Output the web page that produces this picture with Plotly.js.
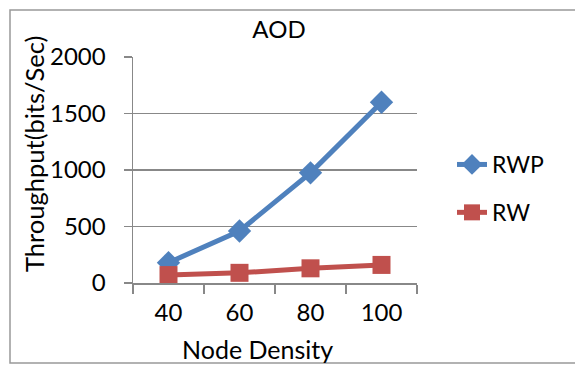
<!DOCTYPE html>
<html>
<head>
<meta charset="utf-8">
<script src="https://cdn.plot.ly/plotly-3.0.1.min.js"></script>
<style>
  html, body { margin: 0; padding: 0; background: #fff; }
  #chart { width: 575px; height: 365px; }
</style>
</head>
<body>
<div id="chart"></div>
<script>
// Data
const categories = ['40', '60', '80', '100'];
const rwpValues = [180, 460, 975, 1600];
const rwValues = [70, 90, 130, 160];
const seriesNames = ['RWP', 'RW'];
const yTickVals = [0, 500, 1000, 1500, 2000];
const chartTitle = 'AOD';
const xTitle = 'Node Density';
const yTitle = 'Throughput(bits/Sec)';

const FONT = 'Lato, "Open Sans", sans-serif';
const BLUE = '#4F81BD';
const RED = '#C0504D';
const GRID = '#888888';

// Plot area in pixels: x 133..417, y 57..283
const L = 133, R = 417, T = 57, B = 283, W = 575, H = 365;
const pw = R - L, ph = B - T;
const px = v => (v - L) / pw;
const py = v => (B - v) / ph;

const traces = [
  {
    x: categories, y: rwpValues, name: seriesNames[0], type: 'scatter', mode: 'lines+markers',
    line: { color: BLUE, width: 5 },
    marker: { symbol: 'diamond', size: 18, color: BLUE },
    legendgroup: 'a', cliponaxis: false
  },
  {
    x: categories, y: rwValues, name: seriesNames[1], type: 'scatter', mode: 'lines+markers',
    line: { color: RED, width: 5 },
    marker: { symbol: 'square', size: 18, color: RED },
    legendgroup: 'b', cliponaxis: false
  }
];

const layout = {
  width: W, height: H,
  margin: { l: L, r: W - R, t: T, b: H - B, pad: 0 },
  paper_bgcolor: '#fff', plot_bgcolor: '#fff',
  font: { family: FONT, size: 24, color: '#000' },
  showlegend: true,
  title: {
    text: chartTitle, font: { family: FONT, size: 24, color: '#000' },
    xref: 'paper', x: px(279), xanchor: 'center',
    yref: 'container', y: 1 - 30 / H, yanchor: 'middle'
  },
  xaxis: {
    type: 'category', range: [-0.5, 3.5],
    tickson: 'boundaries', ticks: 'outside', ticklen: 9, tickcolor: GRID, tickwidth: 1.5,
    showline: true, linecolor: GRID, linewidth: 1.5,
    showgrid: false, zeroline: false,
    ticklabelstandoff: 8,
    tickfont: { family: FONT, size: 24, color: '#000' },
    fixedrange: true
  },
  yaxis: {
    range: [0, 2000], tickvals: yTickVals,
    ticks: 'outside', ticklen: 8, tickcolor: GRID, tickwidth: 1.5,
    showline: true, linecolor: GRID, linewidth: 1.5,
    showgrid: true, gridcolor: GRID, gridwidth: 1.5, zeroline: false,
    ticklabelstandoff: 13,
    tickfont: { family: FONT, size: 24, color: '#000' },
    fixedrange: true
  },
  legend: {
    x: px(452), xanchor: 'left',
    y: py(143), yanchor: 'top',
    font: { family: FONT, size: 23, color: '#000' },
    bgcolor: 'rgba(0,0,0,0)', borderwidth: 0,
    traceorder: 'grouped', tracegroupgap: 15
  },
  annotations: [
    {
      text: yTitle, textangle: -90, showarrow: false,
      xref: 'paper', yref: 'paper', x: px(34), y: py(154),
      xanchor: 'center', yanchor: 'middle',
      font: { family: FONT, size: 25.5, color: '#000' }
    },
    {
      text: xTitle, showarrow: false,
      xref: 'paper', yref: 'paper', x: px(257), y: py(349),
      xanchor: 'center', yanchor: 'middle',
      font: { family: FONT, size: 25, color: '#000' }
    }
  ],
  shapes: [
    {
      type: 'rect', xref: 'paper', yref: 'paper', layer: 'above',
      x0: px(10), x1: px(590), y0: py(363), y1: py(10),
      line: { color: '#999999', width: 1.5 }, fillcolor: 'rgba(0,0,0,0)'
    }
  ]
};

Plotly.newPlot('chart', traces, layout, { displayModeBar: false, staticPlot: true });
</script>
</body>
</html>
